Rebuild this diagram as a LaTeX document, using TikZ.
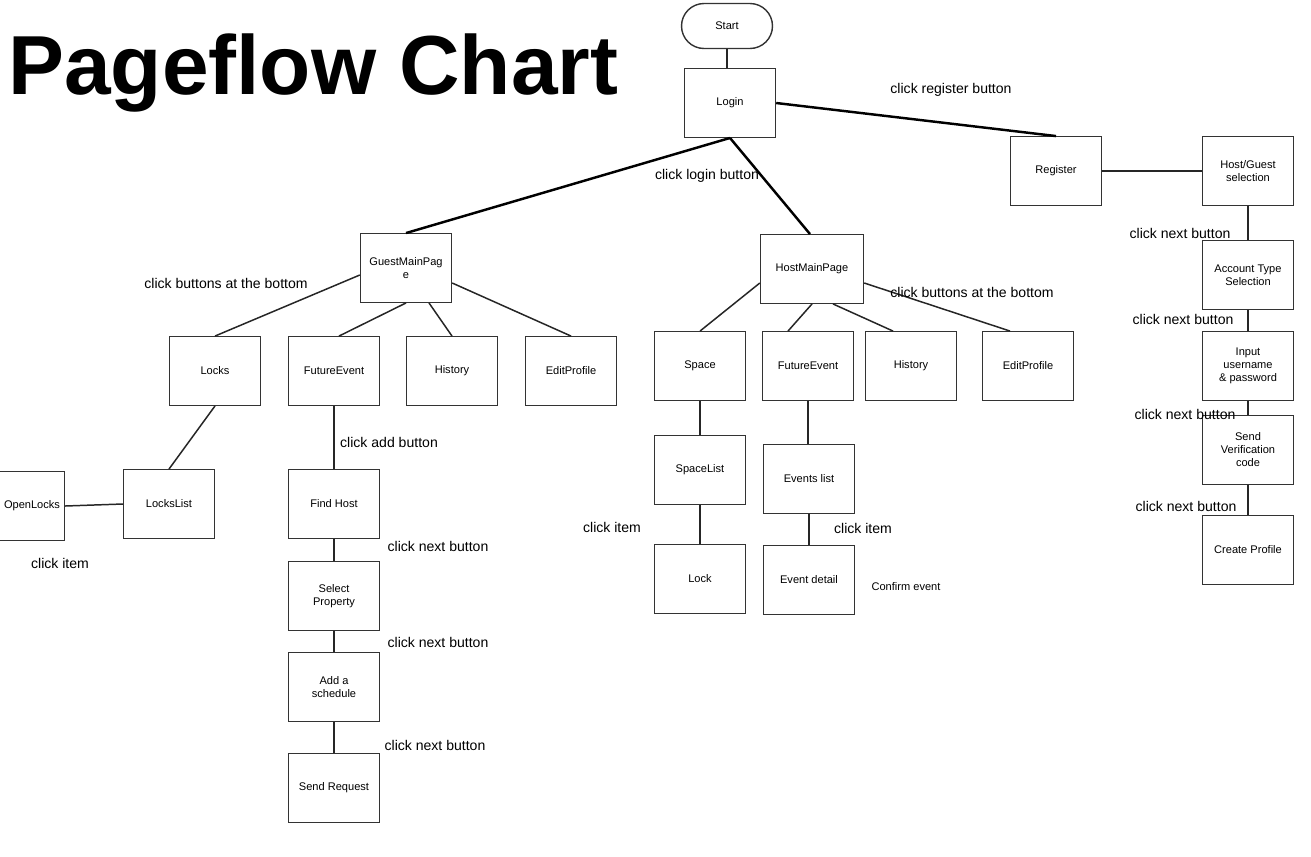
\documentclass[tikz,border=0pt]{standalone}
\usepackage{fontspec}
\setmainfont{Liberation Sans}
\begin{document}
\begin{tikzpicture}[x=0.02cm, y=-0.02cm,
    page/.style={draw=black!80, line width=0.8pt, minimum width=1.82cm, minimum height=1.37cm,
        inner sep=1pt, align=center, font=\fontsize{6.3}{7.4}\selectfont},
    note/.style={inner sep=0pt, font=\fontsize{8}{9.6}\selectfont},
    link/.style={draw=black!85, line width=0.85pt},
    mainlink/.style={draw=black, line width=1.4pt}]
    % 1. Khung
    \useasboundingbox (0,0) rectangle (1311,856);
    \node[anchor=west, inner sep=0pt, font=\bfseries\fontsize{47.7}{50}\selectfont] (title) at (8,73) {Pageflow Chart};

    % 2. Start, Login, Register
    \node[page, rounded corners=0.45cm, minimum height=0.9cm] (start) at (727,26) {Start};
    \node[page] (login) at (730,103) {Login};
    \node[page] (register) at (1056,171) {Register};
    \draw[link, line width=1.2pt] (start.south) -- (start.south |- login.north);
    \draw[mainlink] (login.east) -- (register.north);
    \node[note] (lreg) at (951,90) {click register button};
    \node[note] (llogin) at (707,176) {click login button};

    % 3. Nhanh dang ky
    \node[page] (hgsel) at (1248,171) {Host/Guest\\selection};
    \node[page] (acctype) at (1248,275) {Account Type\\Selection};
    \node[page] (input) at (1248,366) {Input\\username\\\& password};
    \node[page] (verify) at (1248,450) {Send\\Verification\\code};
    \node[page] (create) at (1248,550) {Create Profile};
    \draw[link] (register) -- (hgsel);
    \draw[link] (hgsel) -- (acctype);
    \draw[link] (acctype) -- (input);
    \draw[link] (input) -- (verify);
    \draw[link] (verify) -- (create);
    \node[note] (lnext1) at (1180,233) {click next button};
    \node[note] (lnext2) at (1183,319) {click next button};
    \node[note] (lnext3) at (1185,414) {click next button};
    \node[note] (lnext4) at (1186,506) {click next button};

    % 4. Trang khach (Guest)
    \node[page] (gmain) at (406,268) {GuestMainPag\\e};
    \draw[mainlink] (login.south) -- (gmain.north);
    \node[page] (glocks) at (215,371) {Locks};
    \node[page] (gfut) at (334,371) {FutureEvent};
    \node[page] (ghist) at (452,371) {History};
    \node[page] (gedit) at (571,371) {EditProfile};
    \draw[link] ([yshift=-0.14cm]gmain.west) -- (glocks.north);
    \draw[link] (gmain.south) -- ([xshift=0.1cm]gfut.north);
    \draw[link] ([xshift=0.46cm]gmain.south) -- (ghist.north);
    \draw[link] ([yshift=-0.3cm]gmain.east) -- (gedit.north);
    \node[note] (lgbtn) at (226,283) {click buttons at the bottom};

    \node[page, minimum width=1.3cm] (openlocks) at (32,506) {OpenLocks};
    \node[page] (lockslist) at (169,504) {LocksList};
    \draw[link] (glocks.south) -- (lockslist.north);
    \draw[link] (openlocks.east) -- (lockslist.west);
    \node[note] (litem1) at (60,563) {click item};

    \node[page] (findhost) at (334,504) {Find Host};
    \node[page] (selprop) at (334,596) {Select\\Property};
    \node[page] (addsched) at (334,687) {Add a\\schedule};
    \node[page] (sendreq) at (334,788) {Send Request};
    \draw[link] (gfut) -- (findhost);
    \draw[link] (findhost) -- (selprop);
    \draw[link] (selprop) -- (addsched);
    \draw[link] (addsched) -- (sendreq);
    \node[note] (ladd) at (389,442) {click add button};
    \node[note] (lgnext1) at (438,546) {click next button};
    \node[note] (lgnext2) at (438,642) {click next button};
    \node[note] (lgnext3) at (435,745) {click next button};

    % 5. Trang chu nha (Host)
    \node[page, minimum width=2.06cm] (hmain) at (812,269) {HostMainPage};
    \draw[mainlink] (login.south) -- ([xshift=-0.04cm]hmain.north);
    \node[page] (space) at (700,366) {Space};
    \node[page] (hfut) at (808,366) {FutureEvent};
    \node[page] (hhist) at (911,366) {History};
    \node[page] (hedit) at (1028,366) {EditProfile};
    \draw[link] ([yshift=-0.28cm]hmain.west) -- (space.north);
    \draw[link] (hmain.south) -- ([xshift=-0.4cm]hfut.north);
    \draw[link] ([xshift=0.42cm]hmain.south) -- ([xshift=-0.36cm]hhist.north);
    \draw[link] ([yshift=-0.28cm]hmain.east) -- ([xshift=-0.36cm]hedit.north);
    \node[note] (lhbtn) at (972,292) {click buttons at the bottom};

    \node[page] (spacelist) at (700,470) {SpaceList};
    \node[page] (lock) at (700,579) {Lock};
    \node[page] (evlist) at (809,479) {Events list};
    \node[page] (evdetail) at (809,580) {Event detail};
    \draw[link] (space) -- (spacelist);
    \draw[link, line width=1.5pt] (spacelist) -- (lock);
    \draw[link] (hfut.south) -- (hfut.south |- evlist.north);
    \draw[link] (evlist) -- (evdetail);
    \node[note] (litem2) at (612,527) {click item};
    \node[note] (litem3) at (863,528) {click item};
    \node[note, font=\fontsize{6.3}{7.4}\selectfont] (lconfirm) at (906,587) {Confirm event};
\end{tikzpicture}
\end{document}
